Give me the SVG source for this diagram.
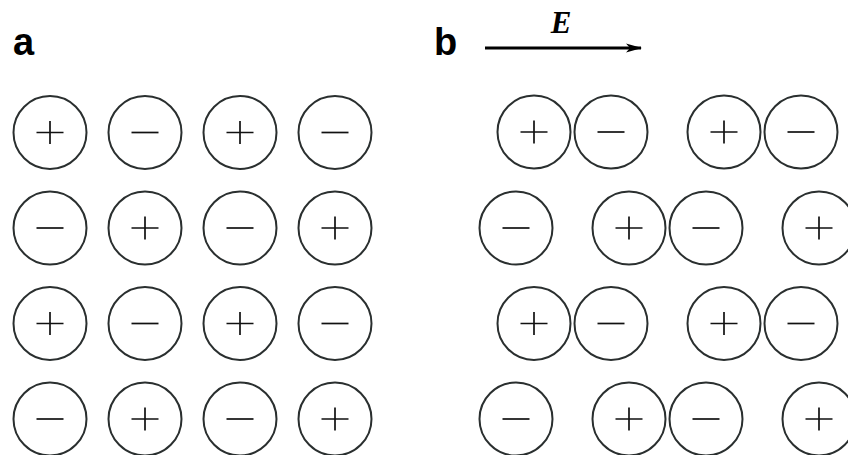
<svg xmlns="http://www.w3.org/2000/svg" width="848" height="455" viewBox="0 0 848 455">
  <style>
    .ion { fill: #fff; stroke: #2a2f2f; stroke-width: 2; }
    .sign { stroke: #111; stroke-width: 1.7; fill: none; }
    .panel { font-family: "Liberation Sans", Arial, sans-serif; font-weight: bold; font-size: 38px; fill: #000; }
    .field { font-family: "Liberation Serif", "Times New Roman", serif; font-weight: bold; font-style: italic; font-size: 31px; fill: #000; }
  </style>
  <defs>
    <marker id="head" viewBox="0 0 16 10" refX="15" refY="5" markerWidth="16" markerHeight="10" markerUnits="userSpaceOnUse" orient="auto">
      <path d="M0,0.5 L16,5 L0,9.5 L4,5 z" fill="#000"/>
    </marker>
    <g id="plus">
      <circle class="ion" r="36.5"/>
      <path class="sign" d="M-13.5,0 H13.5 M0,-11.5 V11.5"/>
    </g>
    <g id="minus">
      <circle class="ion" r="36.5"/>
      <path class="sign" d="M-13.5,0 H13.5"/>
    </g>
  </defs>

  <!-- panel labels -->
  <text class="panel" x="13" y="55">a</text>
  <text class="panel" x="434" y="55">b</text>

  <!-- applied field -->
  <g id="field">
    <line x1="485" y1="48" x2="641" y2="48" stroke="#000" stroke-width="3.2" marker-end="url(#head)"/>
    <text class="field" x="561" y="33" text-anchor="middle">E</text>
  </g>

  <!-- panel a: ordered lattice, no field -->
  <g id="lattice-a">
    <use href="#plus" x="50" y="132.5"/>
    <use href="#minus" x="145" y="132.5"/>
    <use href="#plus" x="240" y="132.5"/>
    <use href="#minus" x="335" y="132.5"/>

    <use href="#minus" x="50" y="228"/>
    <use href="#plus" x="145" y="228"/>
    <use href="#minus" x="240" y="228"/>
    <use href="#plus" x="335" y="228"/>

    <use href="#plus" x="50" y="323.5"/>
    <use href="#minus" x="145" y="323.5"/>
    <use href="#plus" x="240" y="323.5"/>
    <use href="#minus" x="335" y="323.5"/>

    <use href="#minus" x="50" y="419"/>
    <use href="#plus" x="145" y="419"/>
    <use href="#minus" x="240" y="419"/>
    <use href="#plus" x="335" y="419"/>
  </g>

  <!-- panel b: lattice displaced by the field -->
  <g id="lattice-b">
    <use href="#plus" x="534" y="132"/>
    <use href="#minus" x="611" y="132"/>
    <use href="#plus" x="724" y="132"/>
    <use href="#minus" x="801" y="132"/>

    <use href="#minus" x="516" y="228"/>
    <use href="#plus" x="629" y="228"/>
    <use href="#minus" x="706" y="228"/>
    <use href="#plus" x="819" y="228"/>

    <use href="#plus" x="534" y="323.5"/>
    <use href="#minus" x="611" y="323.5"/>
    <use href="#plus" x="724" y="323.5"/>
    <use href="#minus" x="801" y="323.5"/>

    <use href="#minus" x="516" y="419"/>
    <use href="#plus" x="629" y="419"/>
    <use href="#minus" x="706" y="419"/>
    <use href="#plus" x="819" y="419"/>
  </g>
</svg>
